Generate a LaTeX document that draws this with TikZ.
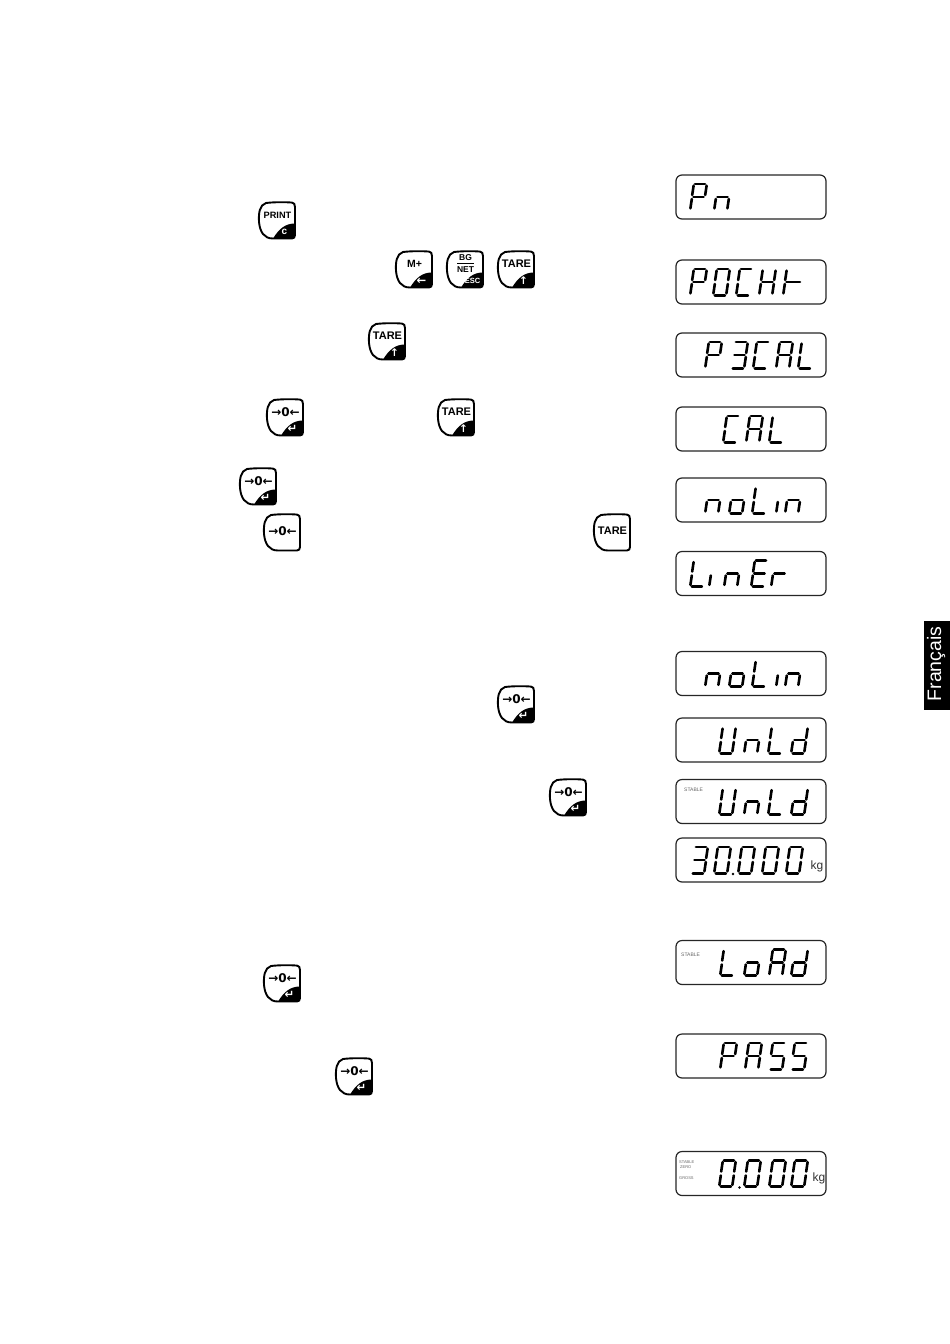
\documentclass[tikz,border=0pt]{standalone}
\usepackage{fontspec}
\setmainfont{Liberation Sans}
\newfontfamily\symfont{DejaVu Sans}
\usetikzlibrary{positioning}

% segments of one display digit, slanted to the right
\tikzset{
    seg a/.style={insert path={(4.9,0.8) -- (15,0.8)}},
    seg b/.style={insert path={(16.6,2.6) -- (15.2,12)}},
    seg c/.style={insert path={(14.8,16) -- (13.4,25.4)}},
    seg d/.style={insert path={(1.8,27.2) -- (11.9,27.2)}},
    seg e/.style={insert path={(1.8,16) -- (0.4,25.4)}},
    seg f/.style={insert path={(3.6,2.6) -- (2.2,12)}},
    seg g/.style={insert path={(3.4,14) -- (13.6,14)}},
    seg t/.style={insert path={(3.4,14) -- (17,14)}}
}

% glyphs
\def\gP{a,b,e,f,g}  \def\gn{c,e,g}      \def\gO{a,b,c,d,e,f}
\def\gC{a,d,e,f}    \def\gH{b,c,e,f,g}  \def\gt{e,f,t}
\def\gT{a,b,c,d,g}  \def\gA{a,b,c,e,f,g}\def\gL{d,e,f}
\def\go{c,d,e,g}    \def\gi{e}          \def\gE{a,d,e,f,g}
\def\gr{e,g}        \def\gU{b,c,d,e,f}  \def\gd{b,c,d,e,g}
\def\gS{a,c,d,f,g}

\newcommand{\segdigit}[3]{%
    \begin{scope}[shift={(#1,#2)}]
        \edef\seglist{#3}
        \foreach \s in \seglist { \path[segline, seg \s]; }
    \end{scope}
}
\newcommand{\lcdrow}[3]{%
    \node[lcdbox] (#1) at (751,#2) {};
    \foreach \x/\g in {#3} { \segdigit{\x}{#2-14}{\g} }
}
\newcommand{\keyplain}[4]{%
    \begin{scope}[shift={(#2,#3)}]
        \draw[keyline] (8,1) .. controls (16,0) and (28,0) .. (34,0.6)
            .. controls (36,1) and (37,2) .. (37,5) -- (37,33)
            .. controls (37,35) and (36,36.5) .. (34,36.5) -- (15,36.5)
            .. controls (6,36.5) and (2,30) .. (1,20)
            .. controls (0.5,11) and (1.5,3) .. (8,1) -- cycle;
        \node[keytext] (#1-top) at (19.5,#4) {\csname keylab#1\endcsname};
    \end{scope}
}
\newcommand{\keycap}[6]{%
    \def\tmplab{#5}%
    \expandafter\let\csname keylab#1\endcsname\tmplab
    \keyplain{#1}{#2}{#3}{#4}
    \begin{scope}[shift={(#2,#3)}]
        \fill (37,21.5) .. controls (27,21.5) and (21,27) .. (15,36.5)
            -- (34,36.5) .. controls (36,36.5) and (37,35) .. (37,33) -- cycle;
        \node[keysub] (#1-sub) at (26.5,30) {#6};
    \end{scope}
}
\newcommand{\keybare}[5]{%
    \def\tmplab{#5}%
    \expandafter\let\csname keylab#1\endcsname\tmplab
    \keyplain{#1}{#2}{#3}{#4}
}
\def\lzero{{\symfont\bfseries\fontsize{12}{12}\selectfont →0←}}
\def\ltare{{\fontsize{11}{11}\selectfont TARE}}
\def\ent{{\symfont\bfseries\fontsize{11.5}{11.5}\selectfont ↵}}
\def\upa{{\symfont\bfseries\fontsize{10.5}{10.5}\selectfont ↑}}

\begin{document}
\begin{tikzpicture}[
    x=1pt, y=-1pt,
    segline/.style={draw=black, line width=2.6pt, line cap=round},
    lcdbox/.style={rectangle, rounded corners=6pt, draw=black!85, line width=1.2pt, fill=white, minimum width=150pt, minimum height=44pt, inner sep=0pt},
    keyline/.style={draw=black, line width=1.9pt, fill=white},
    keytext/.style={inner sep=0pt, font=\bfseries},
    keysub/.style={inner sep=0pt, text=white, font=\bfseries},
    tinytext/.style={inner sep=0pt, text=black!60, font=\fontsize{5}{5}\selectfont},
    faintext/.style={inner sep=0pt, text=black!60, font=\fontsize{4}{4}\selectfont},
    unittext/.style={inner sep=0pt, text=black!80, font=\fontsize{12}{12}\selectfont},
    sidetab/.style={rectangle, fill=black, text=white, inner sep=0pt, minimum width=26pt, minimum height=89pt}
]
\useasboundingbox (0,0) rectangle (950,1344);

% === KEYS ===
\keycap{print}{258}{202}{13}{{\fontsize{9.2}{9.2}\selectfont PRINT}}{{\fontsize{10}{10}\selectfont c}}
\keycap{mplus}{395}{251}{13}{{\fontsize{10.5}{10.5}\selectfont M+}}{{\symfont\bfseries\fontsize{11.5}{11.5}\selectfont ←}}
\keycap{bgnet}{446}{251}{13}{\begin{tabular}{@{}c@{}}\fontsize{8.5}{9}\selectfont BG\\[-1pt]\hline\fontsize{8.5}{9}\selectfont NET\end{tabular}}{{\fontsize{7.5}{7.5}\selectfont ESC}}
\keycap{tarea}{497}{251}{13}{\ltare}{\upa}
\keycap{tareb}{368}{323}{13}{\ltare}{\upa}
\keycap{zeroa}{266}{399}{13}{\lzero}{\ent}
\keycap{tarec}{437}{399}{13}{\ltare}{\upa}
\keycap{zerob}{239}{468}{13}{\lzero}{\ent}
\keybare{zeroc}{263}{514}{17}{\lzero}
\keybare{tared}{593}{514}{17}{\ltare}
\keycap{zerod}{497}{686}{13}{\lzero}{\ent}
\keycap{zeroe}{549}{779}{13}{\lzero}{\ent}
\keycap{zerof}{263}{965}{13}{\lzero}{\ent}
\keycap{zerog}{335}{1058}{13}{\lzero}{\ent}

% === DISPLAYS ===
\lcdrow{pn}{197}{690/\gP,714/\gn}
\lcdrow{pochk}{282}{690/\gP,713/\gO,736/\gC,759/\gH,783/\gt}
\lcdrow{pcal}{355}{705/\gP,731/\gT,753/\gC,776/\gA,798/\gL}
\lcdrow{cal}{429}{723/\gC,746/\gA,769/\gL}
\lcdrow{nolina}{500}{705/\gn,729/\go,752/\gL,776/\gi,785/\gn}
\lcdrow{liner}{573.5}{690/\gL,709/\gi,724/\gn,751/\gE,771/\gr}
\lcdrow{nolinb}{673.5}{705/\gn,729/\go,752/\gL,776/\gi,785/\gn}
\lcdrow{unlda}{740}{719/\gU,744/\gn,768/\gL,791/\gd}
\lcdrow{unldb}{801.5}{719/\gU,744/\gn,768/\gL,791/\gd}
\lcdrow{weight}{860}{691/\gT,714/\gO,738/\gO,762/\gO,786/\gO}
\lcdrow{load}{962.5}{720/\gL,744/\go,769/\gA,791/\gd}
\lcdrow{pass}{1056}{720/\gP,745/\gA,769/\gS,791/\gS}
\lcdrow{zero}{1173.5}{719/\gO,744/\gO,769/\gO,791/\gO}

% === small marks in the displays ===
\fill (733,874) circle (1.4pt);
\fill (739.5,1187.5) circle (1.4pt);
\node[tinytext, anchor=west] (stable-a) at (684,790) {STABLE};
\node[tinytext, anchor=west] (stable-b) at (681,954.5) {STABLE};
\node[faintext, anchor=west] (stable-c) at (679,1162) {STABLE};
\node[faintext, anchor=west] (zero-c) at (680,1167) {ZERO};
\node[faintext, anchor=west] (gross-c) at (679,1178.5) {GROSS};
\node[unittext] (kg-a) at (817,866) {kg};
\node[unittext] (kg-b) at (819,1178) {kg};

% === language tab ===
\node[sidetab] (langtab) at (937,665.5) {};
\node[rotate=90, text=white, inner sep=0pt, font=\fontsize{19.5}{19.5}\selectfont] (lang) at (936,664) {Français};

\end{tikzpicture}
\end{document}
